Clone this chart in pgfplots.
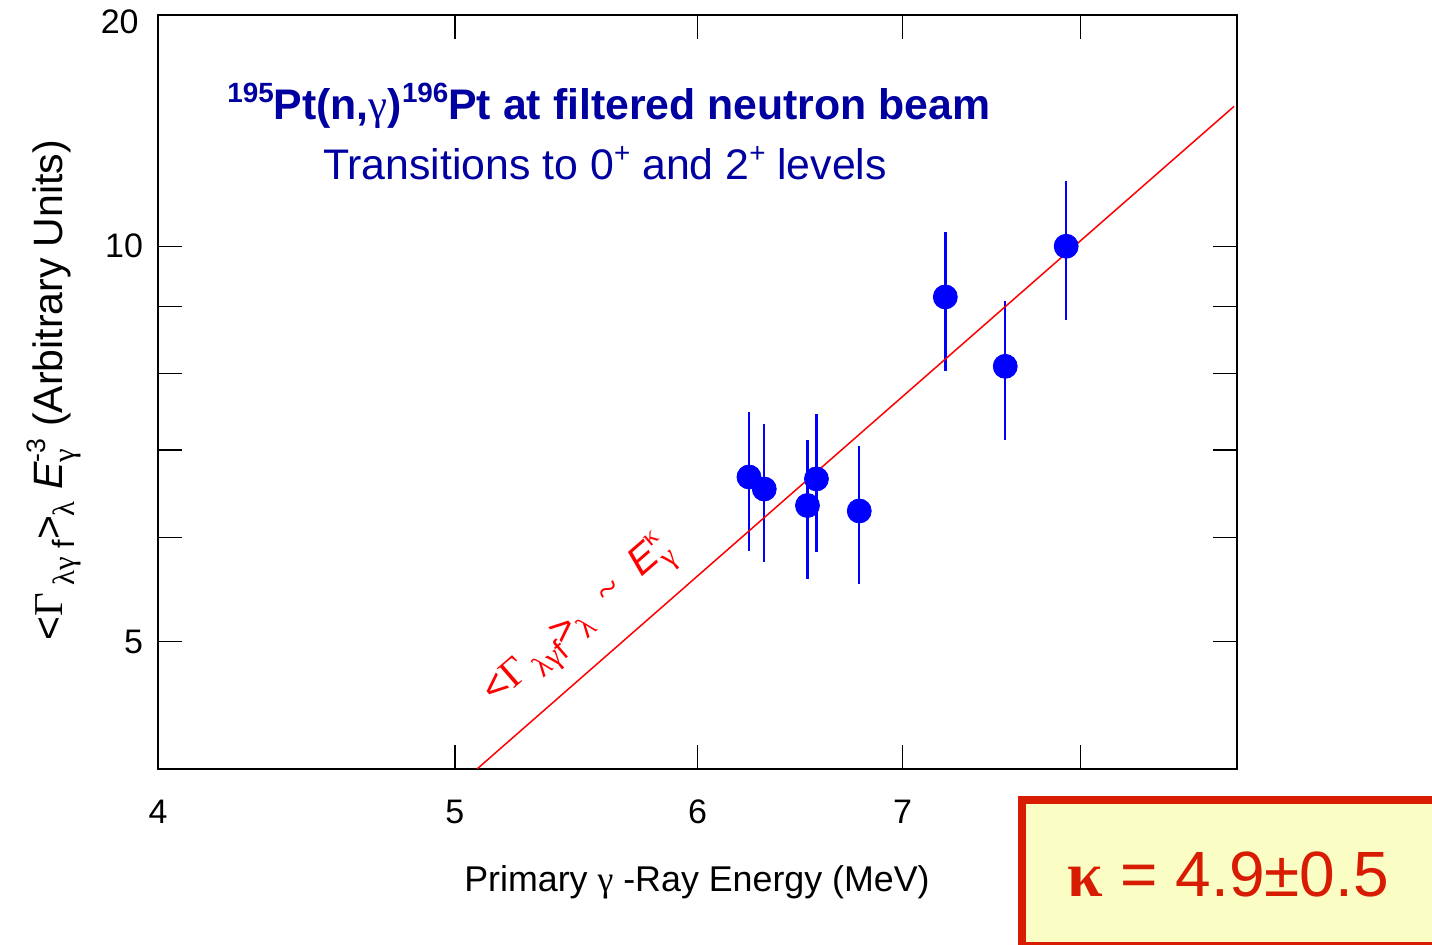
\documentclass[border=0pt]{standalone}
\usepackage{fontspec}
\setmainfont{Liberation Sans}
\newfontfamily\symf{Liberation Serif}
\usepackage{graphicx}
\usepackage{pgfplots}
\pgfplotsset{compat=1.18}
\definecolor{ttl}{RGB}{0,0,160}
\definecolor{boxred}{RGB}{216,28,4}
\definecolor{boxfill}{RGB}{250,253,196}
\newcommand\sps[1]{\raisebox{0.42em}{\scalebox{0.65}{#1}}}
\newcommand\sbs[1]{\raisebox{-0.28em}{\scalebox{0.75}{#1}}}

\pgfplotstableread{
x      y      e
6.237  6.674  0.81
6.309  6.535  0.79
6.517  6.348  0.77
6.561  6.651  0.80
6.776  6.288  0.76
7.229  9.150  1.11
7.562  8.102  0.98
7.917  10.00  1.21
}\datatab

\begin{document}
\begin{tikzpicture}
\begin{axis}[
  at={(0pt,0pt)}, anchor=south west,
  xmode=log, ymode=log,
  scale only axis, width=539.5pt, height=377pt,
  xmin=4, xmax=9, ymin=4, ymax=15,
  xtick={4,5,6,7,8}, xticklabels={4,5,6,7,},
  ytick={5,6,7,8,9,10}, yticklabels={5,,,,,10},
  minor tick num=0, minor tick length=0pt,
  tick align=inside, major tick length=12pt,
  xtick pos=both, ytick pos=both,
  xticklabel pos=lower, yticklabel pos=left,
  tick style={black, line width=0.75pt},
  axis line style={line width=1pt},
  /pgf/number format/assume math mode=true,
  ticklabel style={font=\fontsize{17}{20}\selectfont},
  xticklabel style={yshift=-12pt},
  yticklabel style={xshift=-4pt},
]
\addplot[only marks, mark=*, mark size=6pt, blue,
  mark options={fill=blue, draw=blue},
  error bars/.cd, y dir=both, y explicit,
  error bar style={blue, line width=1.2pt}, error mark=none]
  table[x=x, y=y, y error=e] {\datatab};
\addplot[red, line width=0.75pt] coordinates {(5.084,4.0) (8.98,12.78)};
\end{axis}

% top y label "20"
\node[anchor=east, inner sep=0pt, font=\fontsize{17}{20}\selectfont] at (-9.5pt,373.5pt) {20};

% titles
\node[anchor=base, ttl, font=\fontsize{21.4}{24}\selectfont\bfseries] at (225.5pt,324.5pt)
  {\sps{195}Pt(n,{\symf\mdseries γ})\sps{196}Pt at filtered neutron beam};
\node[anchor=base, ttl, font=\fontsize{21.4}{24}\selectfont] at (223.5pt,294.5pt)
  {Transitions to 0\sps{+} and 2\sps{+} levels};

% axis labels
\node[anchor=base, font=\fontsize{17.9}{20}\selectfont] at (269.5pt,-61.5pt)
  {Primary {\symf γ} -Ray Energy (MeV)};
\node[anchor=base, rotate=90, font=\fontsize{20.5}{24}\selectfont] at (-47.5pt,189.5pt)
  {<{\symf Γ}\,\sbs{{\symf λγ} f}>\sbs{\symf λ} \textit{E}\rlap{\sbs{\symf γ}}\sps{-3} (Arbitrary Units)};

% red annotation
\node[red, rotate=41, font=\fontsize{20}{24}\selectfont] at (211pt,72.5pt)
  {<{\symf Γ}\,\sbs{{\symf λγ}f}>\sbs{\symf λ}\ \ {\symf\textasciitilde}\ \ \textit{E}\rlap{\sbs{\symf γ}}\sps{\symf κ}};

% kappa box
\draw[boxred, line width=4pt, fill=boxfill] (432pt,-15.5pt) rectangle (700pt,-88.4pt);
\node[anchor=base, boxred, font=\fontsize{32}{36}\selectfont] at (535pt,-64pt)
  {{\symf\bfseries κ} = 4.9±0.5};

\pgfresetboundingbox
\path (-79pt,-88pt) rectangle (637pt,384.5pt);
\end{tikzpicture}
\end{document}
